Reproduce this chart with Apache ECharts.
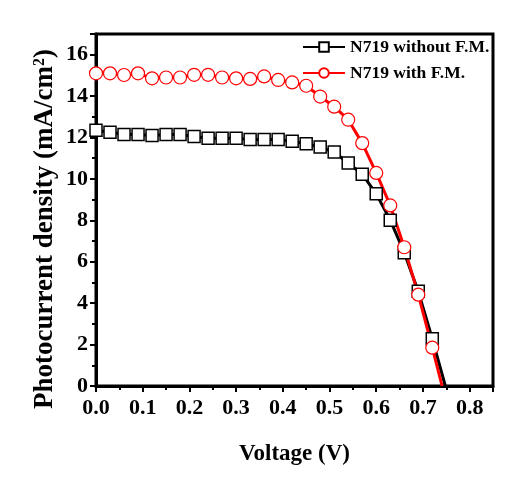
<!DOCTYPE html>
<html>
<head>
<meta charset="utf-8">
<script src="https://cdn.jsdelivr.net/npm/echarts@6/dist/echarts.min.js"></script>
<style>html,body{margin:0;padding:0;background:#fff;}#c{width:528px;height:479px;}</style>
</head>
<body>
<div id="c"></div>
<script>
var voltage = [0,0.03,0.06,0.09,0.12,0.15,0.18,0.21,0.24,0.27,0.30,0.33,0.36,0.39,0.42,0.45,0.48,0.51,0.54,0.57,0.60,0.63,0.66,0.69,0.72];
var withoutFM = [12.35,12.25,12.15,12.15,12.1,12.15,12.15,12.05,11.97,11.97,11.97,11.9,11.9,11.9,11.82,11.70,11.54,11.30,10.77,10.23,9.28,8.01,6.44,4.57,2.28];
var withFM = [15.10,15.10,15.02,15.10,14.86,14.9,14.9,15.03,15.03,14.9,14.86,14.83,14.95,14.78,14.66,14.50,13.98,13.49,12.86,11.73,10.29,8.72,6.70,4.41,1.85];
var vocWithout = 0.748, vocWith = 0.741;
var seriesNames = ['N719 without F.M.', 'N719 with F.M.'];
var xTicks = ['0.0','0.1','0.2','0.3','0.4','0.5','0.6','0.7','0.8'];
var yTicks = ['0','2','4','6','8','10','12','14','16'];
var yTitle = 'Photocurrent density (mA/cm{sup|2})';
var xTitle = 'Voltage (V)';

function build(vs, js, voc) {
  var d = vs.map(function (v, i) { return [v, js[i]]; });
  d.push({ value: [voc, 0], symbol: 'none' });
  return d;
}
var FONT = '"Liberation Serif", "Times New Roman", serif';
var chart = echarts.init(document.getElementById('c'));
chart.setOption({
  animation: false,
  backgroundColor: '#fff',
  grid: { left: 96, right: 35, top: 34, bottom: 93, show: true, borderColor: '#000', borderWidth: 3, backgroundColor: 'transparent' },
  graphic: [{
    type: 'text', x: 45, y: 229, rotation: Math.PI / 2,
    style: {
      text: yTitle, align: 'center', verticalAlign: 'middle',
      fontFamily: FONT, fontWeight: 'bold', fontSize: 27, fill: '#000',
      rich: { sup: { fontFamily: FONT, fontWeight: 'bold', fontSize: 16, fill: '#000', verticalAlign: 'top' } }
    }
  }],
  legend: {
    orient: 'vertical', left: 297, top: 33,
    itemWidth: 42, itemHeight: 12, itemGap: 8,
    data: seriesNames,
    textStyle: { fontFamily: FONT, fontWeight: 'bold', fontSize: 17.5, color: '#000' }
  },
  xAxis: {
    type: 'value', min: 0, max: 0.85, interval: 0.1,
    name: xTitle, nameLocation: 'middle', nameGap: 57,
    nameTextStyle: { fontFamily: FONT, fontWeight: 'bold', fontSize: 23, color: '#000' },
    axisLine: { show: true, lineStyle: { color: '#000', width: 3 } },
    axisTick: { show: true, length: 6, lineStyle: { color: '#000', width: 2 } },
    minorTick: { show: true, splitNumber: 2, length: 4, lineStyle: { color: '#000', width: 2 } },
    splitLine: { show: false },
    axisLabel: { margin: 11, fontFamily: FONT, fontWeight: 'bold', fontSize: 22, color: '#000',
      formatter: function (v) { var i = Math.round(v * 10); return (Math.abs(v * 10 - i) < 1e-6 && i < xTicks.length) ? xTicks[i] : ''; } }
  },
  yAxis: {
    type: 'value', min: 0, max: 17, interval: 2,
    axisLine: { show: true, lineStyle: { color: '#000', width: 3 } },
    axisTick: { show: true, length: 6, lineStyle: { color: '#000', width: 2 } },
    minorTick: { show: true, splitNumber: 2, length: 4, lineStyle: { color: '#000', width: 2 } },
    splitLine: { show: false },
    axisLabel: { margin: 8, fontFamily: FONT, fontWeight: 'bold', fontSize: 22, color: '#000',
      formatter: function (v) { var i = Math.round(v / 2); return (Math.abs(v / 2 - i) < 1e-6 && i < yTicks.length) ? yTicks[i] : ''; } }
  },
  series: [
    { name: seriesNames[0], type: 'line', data: build(voltage, withoutFM, vocWithout),
      symbol: 'rect', symbolSize: 12, showAllSymbol: true,
      lineStyle: { color: '#000', width: 3 },
      itemStyle: { color: '#fff', borderColor: '#000', borderWidth: 1.5 } },
    { name: seriesNames[1], type: 'line', data: build(voltage, withFM, vocWith),
      symbol: 'circle', symbolSize: 13, showAllSymbol: true,
      lineStyle: { color: '#ff0000', width: 3 },
      itemStyle: { color: '#fff', borderColor: '#ff0000', borderWidth: 1.2 } }
  ]
});
</script>
</body>
</html>
